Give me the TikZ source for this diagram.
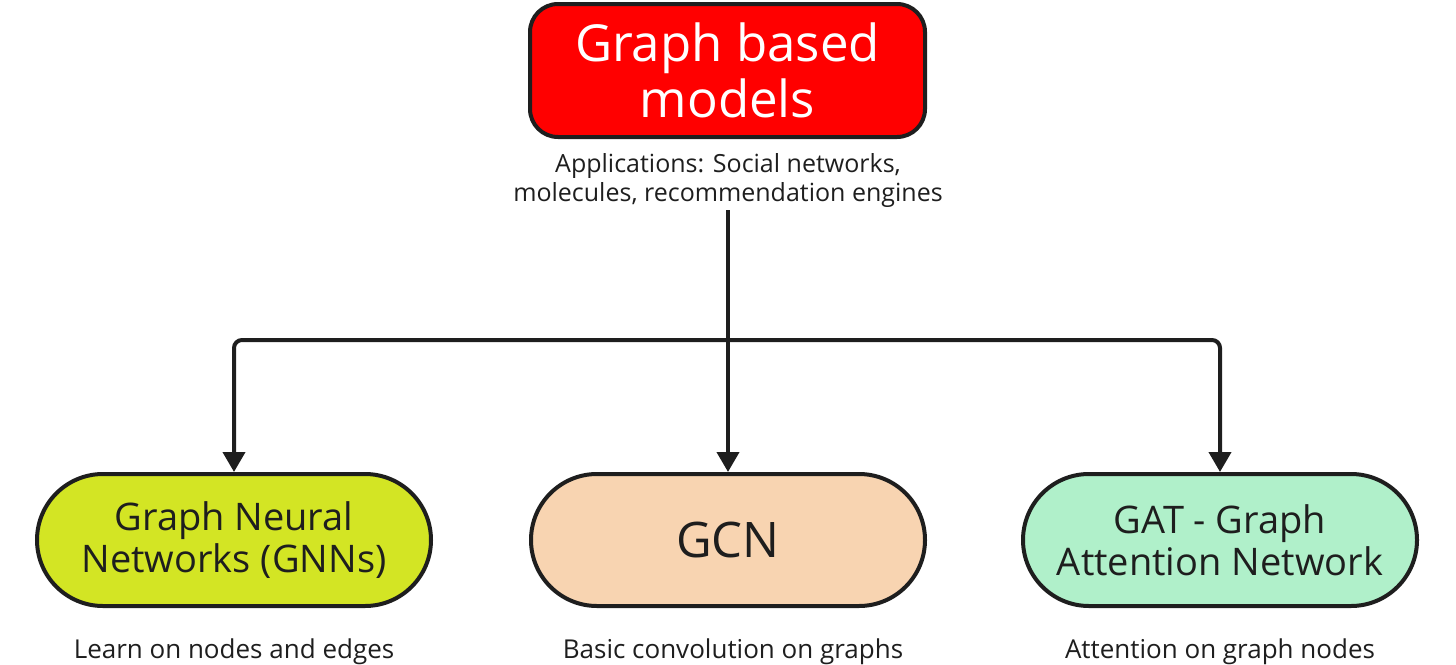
\documentclass[tikz,border=0pt]{standalone}
\usepackage{fontspec}
\setmainfont{Open Sans}
\usetikzlibrary{arrows.meta}
\definecolor{ink}{HTML}{1E1E1E}
\definecolor{redfill}{HTML}{FF0000}
\definecolor{limefill}{HTML}{D3E524}
\definecolor{peachfill}{HTML}{F8D4B1}
\definecolor{mintfill}{HTML}{B0F0CA}
\begin{document}
\begin{tikzpicture}[x=1pt,y=-1pt,
  titlebox/.style={draw=ink, line width=4pt, fill=redfill, rounded corners=28pt,
    minimum width=395pt, minimum height=133pt, align=center, text=white,
    font=\fontsize{51}{56}\selectfont},
  pill/.style={draw=ink, line width=4pt, rounded corners=66pt,
    minimum width=394pt, minimum height=132pt, align=center, text=ink,
    font=\fontsize{38}{42}\selectfont},
  note/.style={align=center, text=ink, font=\fontsize{25}{29}\selectfont},
  conn/.style={draw=ink, line width=4pt, -{Triangle[length=20pt,width=22pt]}},
]
\useasboundingbox (0,0) rectangle (1456,664);
\node[titlebox] (top) at (727.5,70.5) {Graph based\\models};
\node[note, inner sep=2pt] (sub) at (728,181) {Applications: Social networks,\\molecules, recommendation engines};
\node[pill, fill=limefill] (gnn) at (234,540) {Graph Neural\\Networks (GNNs)};
\node[pill, fill=peachfill, font=\fontsize{49}{55}\selectfont] (gcn) at (728,540) {GCN};
\node[pill, fill=mintfill] (gat) at (1220,540) {GAT - Graph\\Attention Network};
\node[note, anchor=base, font=\fontsize{26}{29}\selectfont] (c1) at (234,658) {Learn on nodes and edges};
\node[note, anchor=base, font=\fontsize{26}{29}\selectfont] (c2) at (733,658) {Basic convolution on graphs};
\node[note, anchor=base, font=\fontsize{26}{29}\selectfont] (c3) at (1220,658) {Attention on graph nodes};
\coordinate (j) at (728,340);
\draw[conn] (sub.south) -- (gcn.north);
\draw[conn, rounded corners=8pt] (j) -| (gnn.north);
\draw[conn, rounded corners=8pt] (j) -| (gat.north);
\end{tikzpicture}
\end{document}
